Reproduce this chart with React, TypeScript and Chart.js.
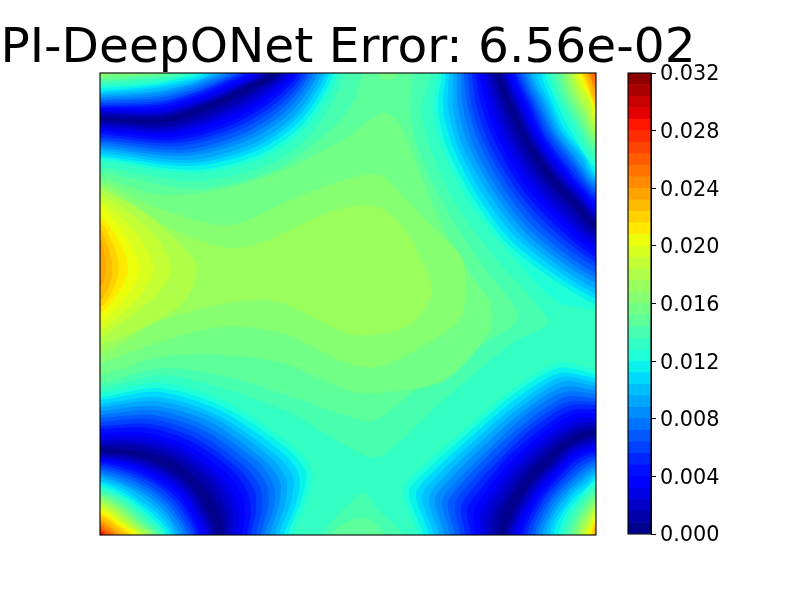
import React, { useEffect, useRef } from "react";
import { Chart, registerables } from "chart.js";

Chart.register(...registerables);

const chartTitle = "PI-DeepONet Error: 6.56e-02";
const colorbarTicks = [0, 0.004, 0.008, 0.012, 0.016, 0.02, 0.024, 0.028, 0.032];
const colorbarBands = [0,1,2,3,4,5,6,7,8,9,10,11,12,13,14,15,16,17,18,19,20,21,22,23,24,25,26,27,28,29,30,31,32,33,34,35,36,37,38,39];
const bandWidth = 0.0008;

// Domain of the field (hidden axes); y runs downward from the top of the plot.
const domainX = 496;
const domainY = 462;
const backgroundBand = 16;

// Closed level curves around the middle of the field: [band, x,y, x,y, ...]
const middleContours = [
  [17, -30,94, 0,94, 95,108, 168,92, 214,58, 245,0, 245,-30, 330,-30, 330,0, 322,35, 330,75, 355,130, 395,185, 433,227, 447,250, 412,270, 340,330, 278,384, 245,372, 195,342, 128,317, 62,302, 0,315, -30,315],
  [17, 222,492, 222,462, 250,430, 265,420, 278,437, 303,462, 303,492],
  [18, -30,99, 0,99, 95,116, 172,98, 225,62, 250,35, 262,0, 262,-30, 313,-30, 313,0, 310,35, 318,75, 340,125, 360,159, 388,200, 410,227, 417,247, 385,270, 330,305, 275,347, 247,343, 195,325, 128,304, 62,295, 0,310, -30,310],
  [18, 232,492, 232,462, 245,450, 265,445, 285,462, 285,492],
  [19, -30,104, 0,104, 60,122, 128,115, 195,92, 250,62, 270,47, 287,40, 302,55, 322,105, 345,159, 370,200, 390,230, 390,257, 345,307, 278,320, 247,317, 182,290, 122,282, 60,284, 0,302, -30,302],
  [19, 277,-30, 277,0, 287,7, 298,0, 298,-30],
  [20, -30,109, 0,109, 50,132, 128,152, 195,125, 250,105, 280,102, 300,120, 335,157, 362,185, 365,227, 360,247, 328,270, 278,294, 247,290, 182,260, 122,254, 62,268, 0,290, -30,290],
  [21, -30,113, 0,113, 30,130, 78,159, 140,175, 230,139, 265,132, 285,138, 305,157, 325,195, 332,220, 312,250, 275,262, 247,260, 165,227, 63,247, 0,282, -30,282],
  [22, -30,117, 0,117, 25,128, 50,144, 83,174, 97,196, 83,230, 37,257, 0,272, -30,272],
  [23, -30,122, 0,122, 27,138, 57,165, 71,196, 57,222, 25,247, 0,265, -30,265],
  [24, -30,128, 0,128, 22,145, 43,170, 53,196, 42,220, 20,242, 0,257, -30,257],
  [25, -30,134, 0,134, 17,152, 32,175, 40,196, 31,217, 15,236, 0,249, -30,249],
  [26, -30,144, 0,144, 14,160, 24,178, 28,196, 22,214, 11,230, 0,240, -30,240],
  [27, -30,150, 0,150, 10,165, 17,182, 19,196, 15,212, 8,226, 0,234, -30,234],
  [28, -30,157, 0,157, 7,172, 11,186, 12,196, 10,210, 5,221, 0,227, -30,227],
  [29, -30,167, 0,167, 4,180, 5,196, 4,206, 0,214, -30,214],
];

// Level curves on the middle side of each dark valley; entry i is level i + 1.
const topLeftBelow = [
  [0,48, 64,50, 115,35, 154,16, 179,0],
  [0,50, 66,54, 118,39, 157,19, 183,0],
  [0,53, 68,57, 121,42, 161,21, 187,0],
  [0,56, 70,60, 125,45, 165,24, 191,0],
  [0,58, 72,64, 128,49, 168,26, 195,0],
  [0,61, 74,67, 131,52, 172,28, 199,0],
  [0,64, 76,70, 134,55, 175,31, 203,0],
  [0,67, 78,73, 137,58, 179,33, 207,0],
  [0,69, 81,77, 140,62, 183,35, 210,0],
  [0,72, 83,80, 143,65, 186,38, 214,0],
  [0,75, 85,83, 146,68, 190,40, 218,0],
  [0,77, 87,87, 150,72, 194,43, 222,0],
  [0,80, 89,90, 153,75, 197,45, 226,0],
  [0,83, 91,93, 156,78, 201,47, 230,0],
  [0,85, 93,97, 159,82, 204,50, 234,0],
  [0,88, 95,100, 162,85, 208,52, 238,0],
];
const topRightBelow = [
  [394,0, 407,35, 423,69, 447,107, 471,132, 496,157],
  [391,0, 402,35, 417,70, 442,108, 467,135, 496,163],
  [387,0, 397,35, 412,70, 437,110, 463,139, 496,168],
  [383,0, 392,35, 406,71, 431,111, 459,142, 496,173],
  [379,0, 387,35, 401,71, 426,113, 455,145, 496,179],
  [376,0, 382,35, 396,71, 421,114, 451,148, 496,184],
  [372,0, 377,35, 390,72, 416,116, 447,151, 496,189],
  [368,0, 372,35, 385,72, 411,117, 443,155, 496,194],
  [364,0, 368,35, 380,72, 406,119, 438,158, 496,200],
  [361,0, 363,35, 374,73, 401,121, 434,161, 496,205],
  [357,0, 358,35, 369,73, 396,122, 430,164, 496,210],
  [353,0, 353,35, 363,74, 391,124, 426,167, 496,216],
  [349,0, 348,35, 358,74, 385,125, 422,170, 496,221],
  [346,0, 343,35, 353,74, 380,127, 418,174, 496,226],
  [342,0, 338,35, 347,75, 375,128, 414,177, 496,232],
  [338,0, 333,35, 342,75, 370,130, 410,180, 455,227, 496,237],
];
const bottomLeftBelow = [
  [0,374, 41,378, 74,388, 101,410, 115,428, 122,446, 124,462],
  [0,371, 43,373, 77,384, 108,407, 121,426, 128,444, 128,462],
  [0,367, 44,369, 81,380, 114,405, 128,424, 133,443, 133,462],
  [0,363, 46,364, 85,376, 120,403, 134,422, 139,442, 138,462],
  [0,360, 47,360, 88,373, 126,400, 141,420, 145,440, 142,462],
  [0,356, 48,355, 92,369, 133,398, 147,418, 151,439, 147,462],
  [0,353, 50,351, 95,365, 139,396, 154,416, 156,437, 151,462],
  [0,349, 51,346, 99,361, 145,394, 160,414, 162,436, 156,462],
  [0,345, 52,342, 103,357, 151,391, 167,412, 168,435, 161,462],
  [0,342, 54,337, 106,353, 158,389, 173,410, 174,433, 165,462],
  [0,338, 55,333, 110,349, 164,387, 180,408, 179,432, 170,462],
  [0,334, 57,328, 114,345, 170,384, 186,406, 185,431, 175,462],
  [0,331, 58,324, 117,342, 176,382, 193,404, 191,429, 179,462],
  [0,327, 59,319, 121,338, 183,380, 199,402, 197,428, 184,462],
  [0,324, 61,315, 124,334, 189,377, 206,400, 202,426, 188,462],
  [0,320, 62,310, 128,330, 195,375, 212,398, 208,425, 193,462],
];
const bottomRightBelow = [
  [496,356, 474,362, 448,381, 426,402, 408,428, 400,445, 397,462],
  [496,352, 473,357, 445,377, 423,398, 403,426, 393,443, 392,462],
  [496,348, 472,353, 443,372, 419,395, 397,423, 387,441, 386,462],
  [496,344, 471,348, 440,368, 415,391, 391,421, 380,440, 381,462],
  [496,340, 470,343, 438,364, 412,388, 385,419, 374,438, 376,462],
  [496,336, 469,338, 436,360, 408,384, 380,417, 367,436, 371,462],
  [496,332, 468,333, 433,355, 405,381, 374,414, 361,434, 365,462],
  [496,329, 467,329, 431,351, 401,378, 368,412, 355,432, 360,462],
  [496,325, 465,324, 429,347, 397,374, 362,410, 348,430, 355,462],
  [496,321, 464,319, 426,342, 394,371, 357,408, 342,428, 350,462],
  [496,317, 463,314, 424,338, 390,367, 351,405, 335,426, 344,462],
  [496,313, 462,309, 421,334, 386,364, 345,403, 329,425, 339,462],
  [496,309, 461,304, 419,330, 383,360, 339,401, 322,423, 334,462],
  [496,305, 460,300, 417,325, 379,357, 333,399, 316,421, 329,462],
  [496,301, 459,295, 414,321, 376,353, 328,396, 309,419, 323,462],
  [496,297, 458,290, 412,317, 372,350, 322,394, 303,417, 318,462],
];

// Level curves on the corner side of each dark valley; entry i is level i + 1.
const topLeftAbove = [
  [0,44, 61,45, 110,30, 146,13, 169,0],
  [0,41, 61,42, 108,28, 143,12, 164,0],
  [0,39, 60,40, 106,27, 139,12, 159,0],
  [0,37, 60,37, 104,25, 136,11, 155,0],
  [0,35, 60,35, 102,23, 132,10, 150,0],
  [0,34, 59,32, 100,21, 128,9, 145,0],
  [0,32, 58,30, 98,19, 125,8, 140,0],
  [0,30, 58,28, 97,18, 121,8, 136,0],
  [0,28, 58,25, 95,16, 118,7, 131,0],
  [0,26, 57,23, 93,14, 114,6, 126,0],
  [0,24, 57,20, 91,12, 110,5, 121,0],
  [0,22, 56,18, 89,11, 107,4, 116,0],
  [0,20, 56,15, 87,9, 110,0],
  [0,18, 55,13, 85,7, 104,0],
  [0,15, 54,11, 80,5, 98,0],
  [0,13, 50,9, 90,0],
  [0,10, 45,6, 80,0],
  [0,8, 40,4, 70,0],
  [0,6, 30,3, 58,0],
  [0,3, 20,1, 40,0],
  [0,1, 8,0],
];
const topRightAbove = [
  [401,0, 414,34, 430,68, 455,104, 478,128, 496,148],
  [404,0, 417,34, 433,67, 457,102, 479,126, 496,144],
  [406,0, 420,33, 435,66, 459,100, 481,124, 496,140],
  [409,0, 423,33, 438,65, 462,98, 482,122, 496,136],
  [412,0, 426,32, 441,65, 464,97, 484,120, 496,132],
  [415,0, 429,32, 444,64, 466,95, 485,118, 496,128],
  [417,0, 432,32, 446,63, 468,93, 486,115, 496,124],
  [420,0, 434,31, 449,62, 471,91, 488,113, 496,120],
  [423,0, 437,31, 452,61, 473,89, 489,111, 496,116],
  [426,0, 440,31, 454,60, 475,87, 490,109, 496,113],
  [429,0, 443,30, 457,60, 477,86, 496,110],
  [432,0, 446,30, 460,59, 480,84, 496,107],
  [436,0, 449,29, 462,58, 482,82, 496,104],
  [441,0, 452,29, 465,57, 484,80, 496,100],
  [445,0, 456,28, 468,53, 496,95],
  [449,0, 459,27, 471,50, 496,90],
  [453,0, 462,26, 474,46, 496,83],
  [457,0, 465,24, 476,44, 496,77],
  [461,0, 468,23, 479,42, 496,72],
  [464,0, 471,22, 481,40, 496,67],
  [467,0, 474,20, 484,38, 496,62],
  [470,0, 476,19, 486,36, 496,57],
  [473,0, 479,17, 488,33, 496,52],
  [475,0, 481,15, 490,30, 496,47],
  [478,0, 483,13, 491,27, 496,42],
  [481,0, 485,12, 492,25, 496,37],
  [483,0, 487,11, 496,32],
  [485,0, 489,11, 496,27],
  [487,0, 491,9, 496,22],
  [489,0, 492,8, 496,16],
  [491,0, 496,10],
  [494,0, 496,5],
];
const bottomLeftAbove = [
  [0,380, 38,384, 70,397, 94,417, 107,440, 116,462],
  [0,382, 37,387, 68,400, 91,419, 104,441, 112,462],
  [0,384, 36,390, 65,402, 88,421, 100,442, 109,462],
  [0,386, 35,392, 63,405, 85,423, 97,443, 105,462],
  [0,388, 34,395, 60,407, 81,424, 93,443, 101,462],
  [0,390, 33,398, 58,410, 78,426, 90,444, 98,462],
  [0,392, 32,401, 56,412, 75,428, 87,445, 95,462],
  [0,395, 30,403, 53,415, 72,430, 83,446, 92,462],
  [0,397, 29,406, 51,417, 69,432, 80,447, 88,462],
  [0,400, 28,409, 49,420, 66,434, 77,448, 84,462],
  [0,402, 27,412, 46,422, 63,436, 73,449, 80,462],
  [0,405, 26,414, 44,425, 59,437, 70,449, 76,462],
  [0,408, 25,417, 41,428, 56,439, 66,450, 73,462],
  [0,410, 24,420, 39,430, 53,441, 63,451, 70,462],
  [0,413, 22,422, 37,432, 50,443, 67,462],
  [0,416, 21,424, 35,434, 48,445, 64,462],
  [0,418, 20,426, 33,436, 45,447, 61,462],
  [0,420, 18,428, 31,438, 43,449, 58,462],
  [0,422, 17,430, 29,439, 41,450, 55,462],
  [0,424, 16,432, 27,441, 39,451, 53,462],
  [0,427, 15,434, 26,442, 37,452, 50,462],
  [0,429, 14,436, 24,444, 35,453, 46,462],
  [0,431, 13,438, 23,446, 33,454, 43,462],
  [0,434, 12,440, 21,448, 40,462],
  [0,437, 11,442, 20,449, 37,462],
  [0,439, 10,444, 18,451, 33,462],
  [0,442, 9,446, 17,452, 29,462],
  [0,444, 8,448, 15,453, 25,462],
  [0,447, 7,451, 12,455, 20,462],
  [0,449, 6,453, 17,462],
  [0,451, 5,455, 14,462],
  [0,453, 4,457, 11,462],
  [0,455, 3,459, 8,462],
  [0,457, 6,462],
  [0,459, 4,462],
  [0,461, 2,462],
];
const bottomRightAbove = [
  [496,363, 470,372, 452,389, 433,408, 417,433, 405,462],
  [496,366, 471,375, 454,392, 435,410, 420,434, 409,462],
  [496,370, 473,378, 456,394, 438,413, 423,436, 412,462],
  [496,373, 474,381, 457,397, 440,415, 426,437, 416,462],
  [496,377, 476,384, 459,400, 443,417, 429,439, 420,462],
  [496,380, 477,387, 461,402, 445,420, 432,440, 423,462],
  [496,383, 479,390, 463,405, 447,422, 435,442, 427,462],
  [496,386, 480,394, 464,408, 450,424, 438,443, 431,462],
  [496,389, 482,397, 466,411, 452,426, 441,445, 435,462],
  [496,393, 483,400, 468,413, 454,429, 444,446, 438,462],
  [496,396, 485,403, 470,416, 457,431, 447,448, 442,462],
  [496,399, 486,406, 471,419, 459,433, 450,449, 446,462],
  [496,402, 488,409, 473,421, 462,436, 453,450, 450,462],
  [496,405, 489,412, 475,424, 464,438, 456,452, 454,462],
  [496,408, 477,427, 466,441, 458,462],
  [496,412, 479,429, 469,443, 462,462],
  [496,416, 481,431, 472,445, 466,462],
  [496,420, 483,434, 475,447, 470,462],
  [496,423, 485,436, 477,449, 473,462],
  [496,427, 486,439, 479,451, 476,462],
  [496,431, 488,441, 481,452, 478,462],
  [496,434, 489,443, 481,462],
  [496,437, 490,446, 483,462],
  [496,440, 491,449, 485,462],
  [496,444, 492,451, 488,462],
  [496,447, 492,454, 490,462],
  [496,450, 492,462],
  [496,454, 493,462],
  [496,457, 495,462],
];

function segment(t: number, pts: number[][]) {
  for (let i = 1; i < pts.length; i++) {
    if (t <= pts[i][0]) {
      const [x0, y0] = pts[i - 1];
      const [x1, y1] = pts[i];
      return y0 + ((t - x0) / (x1 - x0)) * (y1 - y0);
    }
  }
  return pts[pts.length - 1][1];
}

function jetBand(band: number) {
  const t = (band + 0.5) / colorbarBands.length;
  const r = segment(t, [[0, 0], [0.35, 0], [0.66, 1], [0.89, 1], [1, 0.5]]);
  const g = segment(t, [[0, 0], [0.125, 0], [0.375, 1], [0.64, 1], [0.91, 0], [1, 0]]);
  const b = segment(t, [[0, 0.5], [0.11, 1], [0.34, 1], [0.65, 0], [1, 0]]);
  return `rgb(${Math.round(r * 255)},${Math.round(g * 255)},${Math.round(b * 255)})`;
}

function toPoints(flat: number[]) {
  const pts: { x: number; y: number }[] = [];
  for (let i = 0; i < flat.length; i += 2) pts.push({ x: flat[i], y: flat[i + 1] });
  return pts;
}

// Carries a curve that ends on the plot's edges out past the corner it faces.
function closeToCorner(flat: number[], cx: number, cy: number) {
  const pts = toPoints(flat);
  const outward = (p: { x: number; y: number }) =>
    p.x === 0 || p.x === domainX ? { x: cx, y: p.y } : { x: p.x, y: cy };
  return [outward(pts[0]), ...pts, outward(pts[pts.length - 1]), { x: cx, y: cy }];
}

function fillLayer(points: { x: number; y: number }[], band: number) {
  return {
    data: points,
    showLine: true,
    fill: "shape",
    tension: 0.3,
    pointRadius: 0,
    borderWidth: 0,
    borderColor: "transparent",
    backgroundColor: jetBand(band),
  };
}

function buildLayers() {
  const layers: any[] = [];
  layers.push(
    fillLayer(
      [
        { x: -30, y: -30 },
        { x: domainX + 30, y: -30 },
        { x: domainX + 30, y: domainY + 30 },
        { x: -30, y: domainY + 30 },
      ],
      backgroundBand
    )
  );
  layers[0].tension = 0;
  [...middleContours]
    .sort((a, b) => a[0] - b[0])
    .forEach((c) => layers.push(fillLayer(toPoints(c.slice(1)), c[0])));
  const corners: [number[][], number[][], number, number][] = [
    [topLeftBelow, topLeftAbove, -30, -30],
    [topRightBelow, topRightAbove, domainX + 30, -30],
    [bottomLeftBelow, bottomLeftAbove, -30, domainY + 30],
    [bottomRightBelow, bottomRightAbove, domainX + 30, domainY + 30],
  ];
  corners.forEach(([below, above, cx, cy]) => {
    for (let i = below.length - 1; i >= 0; i--) layers.push(fillLayer(closeToCorner(below[i], cx, cy), i));
    for (let i = 0; i < above.length; i++) layers.push(fillLayer(closeToCorner(above[i], cx, cy), i + 1));
  });
  return layers.reverse();
}

const framePlugin = {
  id: "frame",
  afterDraw(chart: any) {
    const { ctx, chartArea: a } = chart;
    ctx.save();
    ctx.strokeStyle = "#000";
    ctx.lineWidth = 1.1;
    ctx.strokeRect(a.left, a.top, a.right - a.left, a.bottom - a.top);
    ctx.restore();
  },
};

const titlePlugin = {
  id: "figureTitle",
  afterDraw(chart: any) {
    const { ctx, chartArea: a } = chart;
    ctx.save();
    ctx.fillStyle = "#000";
    ctx.font = '48.6px "DejaVu Sans"';
    ctx.textAlign = "center";
    ctx.textBaseline = "alphabetic";
    ctx.fillText(chart.options.plugins.title.text, (a.left + a.right) / 2, 62);
    ctx.restore();
  },
};

export default function App() {
  const mainRef = useRef<HTMLCanvasElement>(null);
  const barRef = useRef<HTMLCanvasElement>(null);

  useEffect(() => {
    const main = new Chart(mainRef.current!, {
      type: "scatter",
      data: { datasets: buildLayers() },
      options: {
        responsive: false,
        animation: false,
        layout: { padding: { left: 100, right: 204, top: 73, bottom: 65 } },
        plugins: {
          legend: { display: false },
          tooltip: { enabled: false },
          title: { display: false, text: chartTitle },
        },
        scales: {
          x: { type: "linear", display: false, min: 0, max: domainX },
          y: { type: "linear", display: false, min: 0, max: domainY, reverse: true },
        },
      },
      plugins: [framePlugin, titlePlugin],
    } as any);

    const bar = new Chart(barRef.current!, {
      type: "bar",
      data: {
        labels: ["error"],
        datasets: colorbarBands.map((band) => ({
          data: [bandWidth],
          backgroundColor: jetBand(band),
          borderWidth: 0,
          barPercentage: 1,
          categoryPercentage: 1,
        })),
      },
      options: {
        responsive: false,
        animation: false,
        layout: { padding: { left: 628, right: 0, top: 73, bottom: 66 } },
        plugins: { legend: { display: false }, tooltip: { enabled: false } },
        scales: {
          x: { stacked: true, display: false },
          y: {
            stacked: true,
            position: "right",
            min: 0,
            max: 0.032,
            afterFit(axis: any) {
              axis.width = 149;
            },
            afterBuildTicks(axis: any) {
              axis.ticks = colorbarTicks.map((value) => ({ value }));
            },
            border: { color: "#000", width: 1 },
            grid: { drawOnChartArea: false, drawTicks: true, tickLength: 5, tickColor: "#000", tickWidth: 1 },
            ticks: {
              color: "#000",
              padding: 4,
              autoSkip: false,
              maxRotation: 0,
              labelOffset: 2,
              font: { family: '"DejaVu Sans"', size: 20.8 },
              callback: (v: any) => Number(v).toFixed(3),
            },
          },
        },
      },
      plugins: [framePlugin],
    } as any);

    return () => {
      main.destroy();
      bar.destroy();
    };
  }, []);

  return (
    <div style={{ position: "absolute", left: 0, top: 0, width: 800, height: 600, background: "#fff" }}>
      <canvas ref={mainRef} width={800} height={600} style={{ position: "absolute", left: 0, top: 0 }} />
      <canvas ref={barRef} width={800} height={600} style={{ position: "absolute", left: 0, top: 0 }} />
    </div>
  );
}
